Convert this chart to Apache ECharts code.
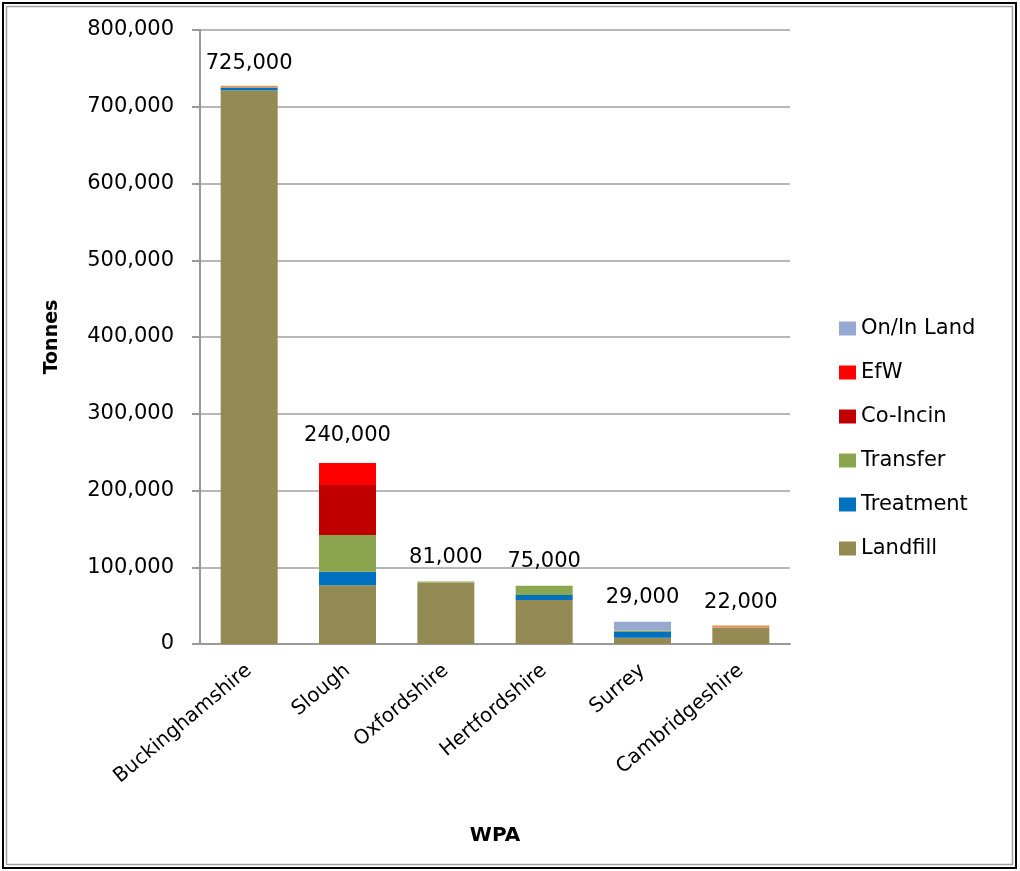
<!DOCTYPE html>
<html><head><meta charset="utf-8">
<script src="https://cdn.jsdelivr.net/npm/echarts@6/dist/echarts.min.js"></script>
<style>html,body{margin:0;padding:0;background:#fff}#c{width:1020px;height:871px}</style>
</head><body><div id="c"></div>
<script>
const categories = ['Buckinghamshire','Slough','Oxfordshire','Hertfordshire','Surrey','Cambridgeshire'];
const landfill  = [721500, 76500, 80000, 57300, 8200, 21500];
const treatment = [3500, 17700, 0, 6500, 7400, 0];
const transfer  = [0, 47800, 1500, 12100, 1700, 0];
const coIncin   = [0, 65100, 0, 0, 0, 0];
const efw       = [0, 28700, 0, 0, 0, 0];
const onInLand  = [0, 0, 0, 0, 11700, 0];
const other     = [2400, 0, 0, 0, 0, 2500];
const totalLabels = [725000, 240000, 81000, 75000, 29000, 22000];
const yTicks = [0,100000,200000,300000,400000,500000,600000,700000,800000];

const FONT = 'DejaVu Sans';
const chart = echarts.init(document.getElementById('c'));
const fmt = v => v.toLocaleString('en-US');
function bar(name, data, color){
  return {name, type:'bar', stack:'s', data, barWidth:57,
    itemStyle:{color}, emphasis:{disabled:true}};
}
chart.setOption({
  animation:false,
  textStyle:{fontFamily:FONT},
  graphic:[
    {type:'rect', shape:{x:3,y:3,width:1013,height:865}, style:{fill:'none',stroke:'#000',lineWidth:2}, silent:true},
    {type:'rect', shape:{x:6.5,y:6.5,width:1006,height:858}, style:{fill:'none',stroke:'#a0a0a0',lineWidth:1.5}, silent:true}
  ],
  grid:{left:200, right:230, top:30, bottom:227},
  legend:{
    orient:'vertical', left:834, top:313, itemWidth:17, itemHeight:14, itemGap:23,
    icon:'rect',
    data:['On/In Land','EfW','Co-Incin','Transfer','Treatment','Landfill'],
    textStyle:{fontFamily:FONT, fontSize:21, color:'#000', lineHeight:21, padding:[0,0,0,0]}
  },
  xAxis:{
    type:'category', data:categories,
    name:'WPA', nameLocation:'middle', nameGap:182,
    nameTextStyle:{fontFamily:FONT, fontSize:20, fontWeight:'bold', color:'#000'},
    axisLine:{lineStyle:{color:'#999', width:2}},
    axisTick:{show:false},
    axisLabel:{rotate:40, fontSize:20, color:'#000', margin:24, interval:0, fontFamily:FONT}
  },
  yAxis:{
    type:'value', min:0, max:800000, interval:100000,
    name:'Tonnes', nameLocation:'middle', nameGap:138,
    nameTextStyle:{fontFamily:FONT, fontSize:19, fontWeight:'bold', color:'#000'},
    axisLine:{show:true, lineStyle:{color:'#999', width:2}},
    axisTick:{show:true, length:8, lineStyle:{color:'#999', width:2}},
    axisLabel:{fontSize:21, color:'#000', margin:26, fontFamily:FONT,
      formatter: v => yTicks.includes(v) ? fmt(v) : ''},
    splitLine:{lineStyle:{color:'#a0a0a0', width:1.5}}
  },
  series:[
    bar('Landfill', landfill, '#948A54'),
    bar('Treatment', treatment, '#0070C0'),
    bar('Transfer', transfer, '#8BA64F'),
    bar('Co-Incin', coIncin, '#C00000'),
    bar('EfW', efw, '#FF0000'),
    bar('On/In Land', onInLand, '#95A9D3'),
    bar('Other', other, '#E8914C'),
    {name:'Totals', type:'scatter', data:totalLabels, symbolSize:0, silent:true,
      itemStyle:{opacity:1},
      label:{show:true, position:'top', distance:14, fontSize:21, color:'#000', opacity:1, fontFamily:FONT,
        formatter: p => fmt(p.value)}}
  ]
});
</script></body></html>
